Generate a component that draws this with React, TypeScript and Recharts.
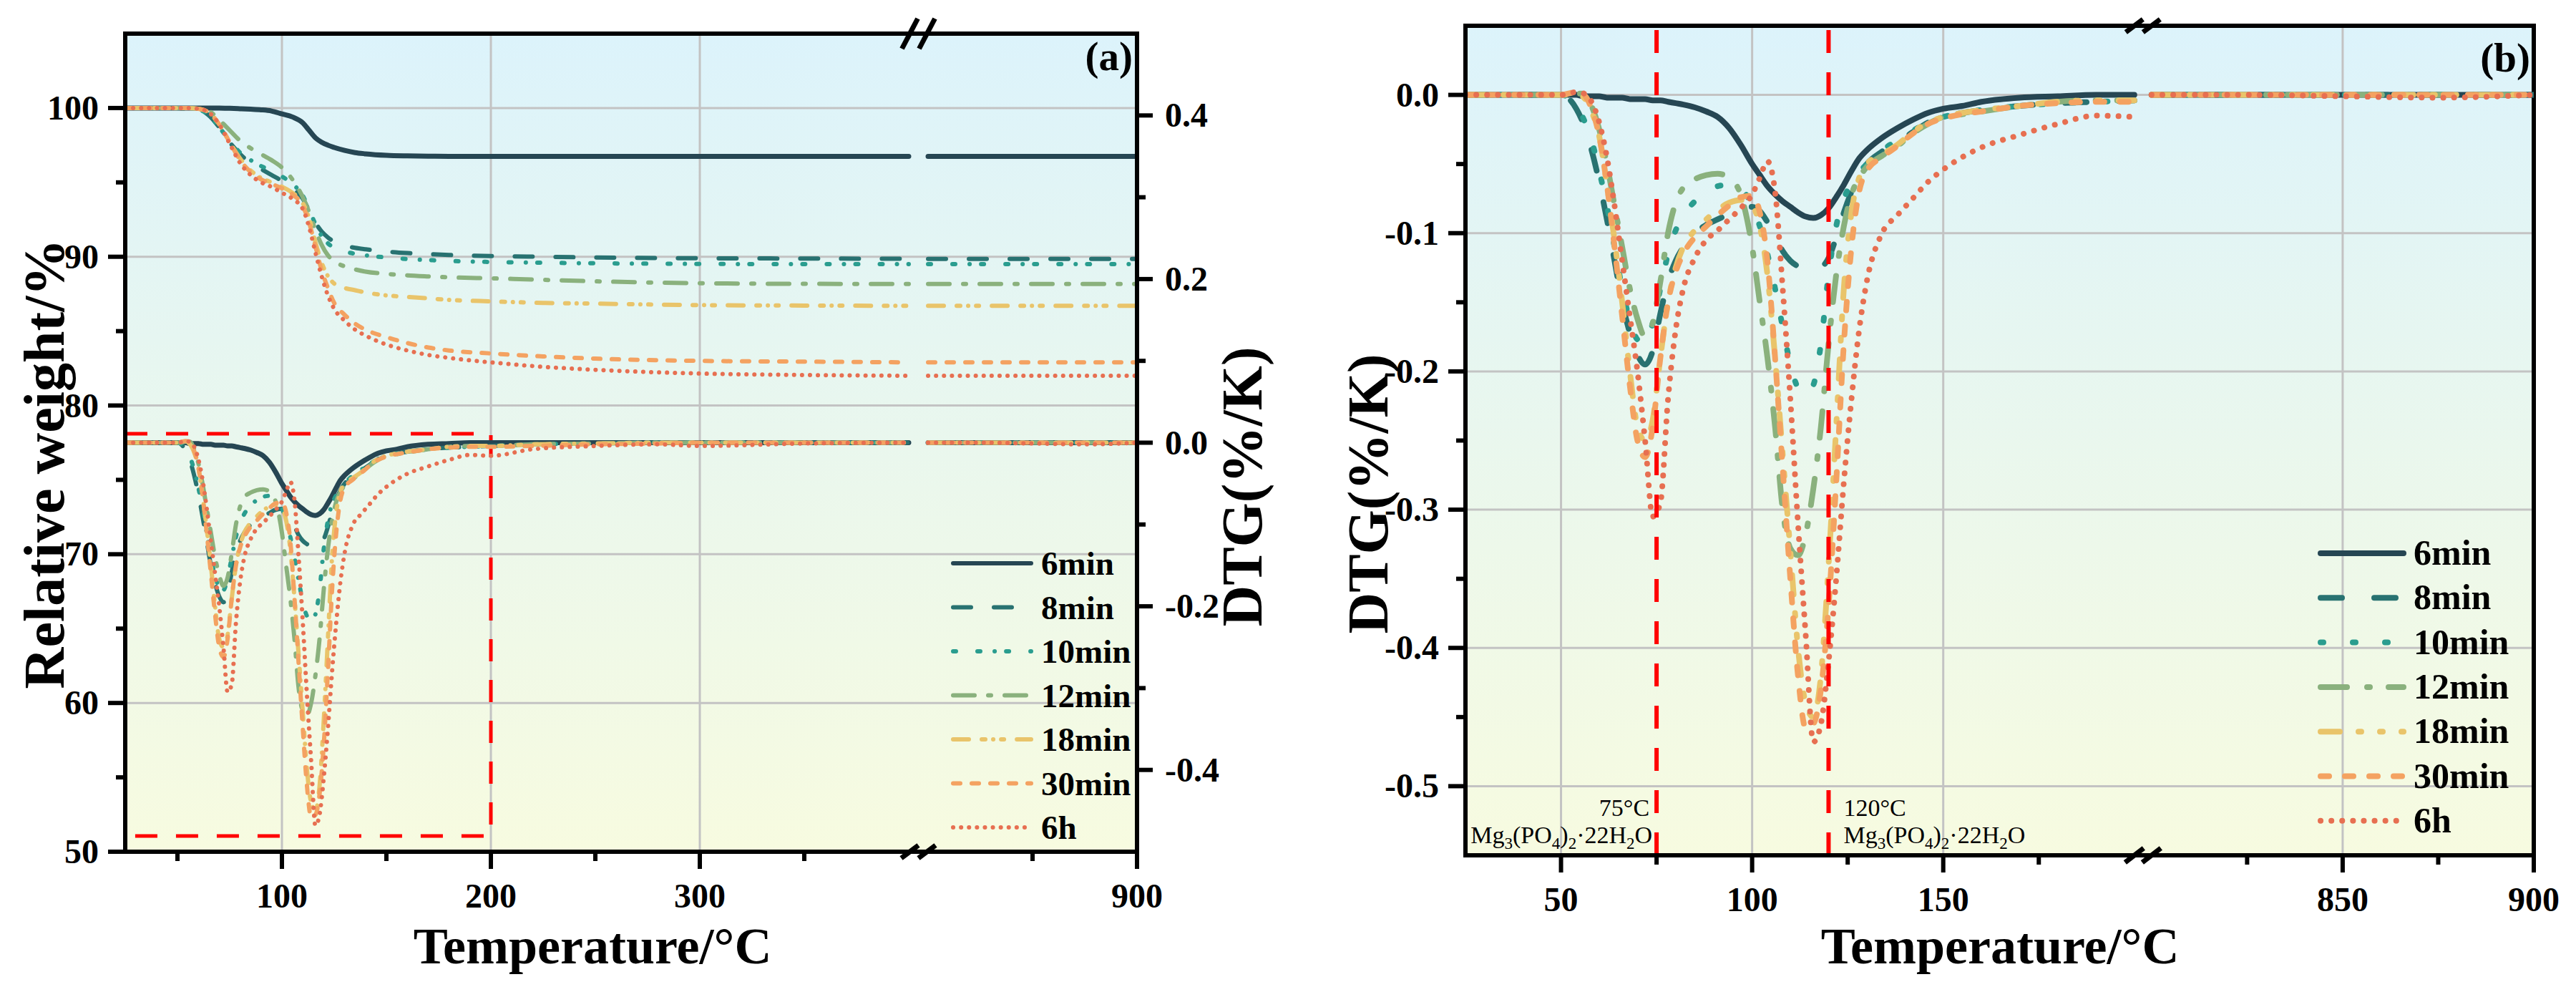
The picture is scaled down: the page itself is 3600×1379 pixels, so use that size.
import React from "react";
import {
  LineChart,
  Line,
  XAxis,
  YAxis,
  CartesianGrid,
  ReferenceArea,
  ReferenceLine,
  ReferenceDot,
} from "recharts";

const FONT = '"Liberation Serif", "Times New Roman", Times, serif';

const samples = ["6min", "8min", "10min", "12min", "18min", "30min", "6h"];
const colors = ["#264653", "#287271", "#2a9d8f", "#8ab17d", "#e9c46a", "#f4a261", "#e76f51"];

// TG curves, relative weight (%)
const tgaTemps = [25, 50, 55, 60, 65, 70, 75, 80, 85, 90, 95, 100, 105, 110, 113, 116, 119, 122, 125, 130, 135, 140, 150, 160, 170, 180, 200, 225, 250, 300, 350, 400, 800, 850, 900];
const tga6min = [100, 100, 100, 100, 100, 100, 99.98, 99.95, 99.92, 99.88, 99.8, 99.6, 99.4, 99.0, 98.5, 98.0, 97.7, 97.5, 97.35, 97.15, 97.0, 96.92, 96.82, 96.78, 96.76, 96.75, 96.75, 96.75, 96.75, 96.75, 96.75, 96.75, 96.75, 96.75, 96.75];
const tga8min = [100, 100, 99.95, 99.9, 99.5, 98.7, 97.7, 96.9, 96.3, 95.9, 95.5, 95.1, 94.6, 93.9, 93.1, 92.3, 91.7, 91.3, 91.0, 90.75, 90.6, 90.5, 90.35, 90.25, 90.18, 90.12, 90.05, 90.0, 89.95, 89.9, 89.88, 89.86, 89.86, 89.86, 89.86];
const tga10min = [100, 100, 99.95, 99.9, 99.5, 98.7, 97.8, 97.0, 96.5, 96.1, 95.8, 95.4, 94.9, 94.1, 93.2, 92.2, 91.4, 90.9, 90.6, 90.35, 90.2, 90.1, 89.95, 89.85, 89.78, 89.72, 89.65, 89.6, 89.56, 89.52, 89.5, 89.5, 89.5, 89.5, 89.5];
const tga12min = [100, 100, 100, 99.95, 99.8, 99.2, 98.5, 97.8, 97.3, 96.9, 96.5, 96.0, 95.2, 94.0, 93.0, 91.8, 90.8, 90.1, 89.7, 89.35, 89.15, 89.0, 88.85, 88.75, 88.68, 88.62, 88.55, 88.45, 88.35, 88.22, 88.18, 88.17, 88.17, 88.17, 88.17];
const tga18min = [100, 100, 100, 99.95, 99.7, 98.9, 97.7, 96.6, 95.8, 95.3, 95.0, 94.7, 94.3, 93.6, 92.6, 91.0, 89.6, 88.7, 88.2, 87.9, 87.75, 87.6, 87.4, 87.3, 87.2, 87.1, 87.0, 86.9, 86.85, 86.75, 86.72, 86.7, 86.7, 86.7, 86.7];
const tga30min = [100, 100, 100, 99.95, 99.7, 98.9, 97.7, 96.5, 95.7, 95.2, 94.9, 94.6, 94.2, 93.4, 92.3, 90.7, 89.1, 87.9, 86.9, 86.1, 85.5, 85.1, 84.6, 84.2, 83.9, 83.7, 83.5, 83.3, 83.15, 83.0, 82.95, 82.9, 82.9, 82.9, 82.9];
const tga6h = [100, 100, 100, 99.95, 99.7, 98.9, 97.6, 96.3, 95.5, 95.0, 94.7, 94.3, 93.9, 93.2, 92.0, 90.3, 88.7, 87.4, 86.5, 85.7, 85.1, 84.7, 84.1, 83.7, 83.4, 83.2, 82.9, 82.6, 82.4, 82.15, 82.05, 82.0, 82.0, 82.0, 82.0];

// DTG curves (%/K)
const dtgTemps = [25, 40, 50, 54, 56, 58, 60, 62, 64, 66, 68, 70, 72, 74, 76, 78, 80, 82, 85, 88, 91, 94, 97, 100, 102, 104, 106, 108, 110, 112, 114, 116, 118, 120, 122, 124, 126, 128, 130, 134, 138, 142, 146, 150, 155, 160, 170, 180, 190, 200, 220, 250, 280, 300, 350, 400, 800, 825, 850, 875, 900];
const dtg6min = [0, 0, 0, 0, -0.001, -0.001, -0.001, -0.002, -0.002, -0.002, -0.003, -0.003, -0.003, -0.004, -0.004, -0.005, -0.006, -0.007, -0.009, -0.012, -0.016, -0.024, -0.036, -0.05, -0.058, -0.066, -0.072, -0.077, -0.081, -0.085, -0.088, -0.089, -0.087, -0.082, -0.074, -0.065, -0.055, -0.046, -0.04, -0.031, -0.024, -0.018, -0.013, -0.01, -0.008, -0.005, -0.002, -0.001, 0, 0, 0, 0, 0, 0, 0, 0, 0, 0, 0, 0, 0];
const dtg8min = [0, 0, 0, -0.01, -0.022, -0.04, -0.063, -0.09, -0.12, -0.15, -0.172, -0.188, -0.195, -0.185, -0.158, -0.135, -0.12, -0.11, -0.1, -0.094, -0.09, -0.086, -0.082, -0.081, -0.084, -0.092, -0.102, -0.113, -0.12, -0.124, -0.126, -0.127, -0.125, -0.118, -0.103, -0.085, -0.07, -0.058, -0.05, -0.041, -0.034, -0.027, -0.02, -0.016, -0.013, -0.011, -0.008, -0.006, -0.005, -0.004, -0.002, -0.001, 0, 0, 0, 0, 0, 0, 0, 0, 0];
const dtg10min = [0, 0, 0, -0.008, -0.018, -0.033, -0.055, -0.08, -0.11, -0.14, -0.163, -0.177, -0.18, -0.165, -0.14, -0.115, -0.098, -0.087, -0.077, -0.07, -0.066, -0.065, -0.068, -0.08, -0.095, -0.115, -0.14, -0.168, -0.195, -0.212, -0.217, -0.21, -0.18, -0.13, -0.095, -0.075, -0.064, -0.056, -0.05, -0.04, -0.033, -0.026, -0.02, -0.016, -0.013, -0.011, -0.008, -0.006, -0.005, -0.004, -0.002, -0.001, 0, 0, 0, 0, 0, 0, 0, 0, 0];
const dtg12min = [0, 0, 0, 0.001, 0.001, -0.008, -0.025, -0.05, -0.08, -0.11, -0.14, -0.162, -0.175, -0.165, -0.135, -0.1, -0.078, -0.067, -0.061, -0.058, -0.057, -0.06, -0.072, -0.11, -0.15, -0.19, -0.24, -0.3, -0.328, -0.333, -0.318, -0.285, -0.24, -0.18, -0.13, -0.095, -0.072, -0.06, -0.052, -0.044, -0.037, -0.028, -0.021, -0.016, -0.014, -0.012, -0.008, -0.005, -0.004, -0.004, -0.002, -0.001, 0, 0, 0, 0, 0, 0, 0, 0, 0];
const dtg18min = [0, 0, 0, 0.001, -0.002, -0.012, -0.03, -0.065, -0.105, -0.15, -0.2, -0.24, -0.25, -0.235, -0.19, -0.15, -0.125, -0.11, -0.098, -0.09, -0.083, -0.078, -0.076, -0.08, -0.095, -0.13, -0.19, -0.26, -0.33, -0.4, -0.44, -0.45, -0.42, -0.34, -0.24, -0.14, -0.085, -0.06, -0.05, -0.043, -0.036, -0.027, -0.02, -0.016, -0.013, -0.011, -0.008, -0.005, -0.004, -0.004, -0.002, -0.001, 0, 0, 0, 0, 0, 0, 0, 0, 0];
const dtg30min = [0, 0, 0, 0.002, 0, -0.01, -0.03, -0.065, -0.11, -0.16, -0.21, -0.25, -0.262, -0.24, -0.19, -0.15, -0.128, -0.115, -0.103, -0.095, -0.087, -0.08, -0.074, -0.073, -0.085, -0.12, -0.19, -0.27, -0.35, -0.42, -0.458, -0.455, -0.43, -0.37, -0.28, -0.18, -0.11, -0.07, -0.055, -0.045, -0.037, -0.028, -0.021, -0.017, -0.014, -0.012, -0.008, -0.006, -0.005, -0.005, -0.004, -0.002, -0.001, 0, 0, 0, 0, 0, 0, 0, 0];
const dtg6h = [0, 0, 0, 0.002, 0.001, -0.005, -0.02, -0.045, -0.08, -0.12, -0.16, -0.2, -0.25, -0.305, -0.295, -0.22, -0.17, -0.14, -0.118, -0.105, -0.098, -0.09, -0.082, -0.072, -0.06, -0.048, -0.07, -0.14, -0.22, -0.31, -0.39, -0.468, -0.455, -0.41, -0.35, -0.28, -0.22, -0.17, -0.135, -0.1, -0.087, -0.075, -0.063, -0.054, -0.045, -0.038, -0.029, -0.021, -0.015, -0.016, -0.008, -0.004, -0.002, -0.004, -0.001, 0, 0, 0, -0.001, -0.002, 0];

const tgaSeries = [tga6min, tga8min, tga10min, tga12min, tga18min, tga30min, tga6h];
const dtgSeries = [dtg6min, dtg8min, dtg10min, dtg12min, dtg18min, dtg30min, dtg6h];

// axis ticks
const tempMajorA = [100, 200, 300, 900];
const tempMinorA = [50, 150, 250, 350, 850];
const weightMajor = [50, 60, 70, 80, 90, 100];
const weightMinor = [55, 65, 75, 85, 95];
const dtgMajorA = [-0.4, -0.2, 0, 0.2, 0.4];
const dtgMinorA = [-0.3, -0.1, 0.1, 0.3];
const tempMajorB = [50, 100, 150, 850, 900];
const tempMinorB = [75, 125, 175, 825, 875];
const dtgMajorB = [-0.5, -0.4, -0.3, -0.2, -0.1, 0];
const dtgMinorB = [-0.45, -0.35, -0.25, -0.15, -0.05];

// peak markers in panel (b)
const peaks = [
  { t: 75, label: "75°C", side: "left" },
  { t: 120, label: "120°C", side: "right" },
];

// dashed box in panel (a) around the DTG region, in weight units
const boxA = { t1: 25, t2: 200, w1: 51.06, w2: 78.1 };

// broken temperature axis: the high-temperature segment follows a small gap
type Break = { lo: number; hi: number; gap: number; max: number };
const breakA: Break = { lo: 400, hi: 800, gap: 9.25, max: 900 };
const breakB: Break = { lo: 200, hi: 800, gap: 4.5, max: 900 };

const toU = (t: number, b: Break) => (t <= b.lo ? t : t - b.hi + b.lo + b.gap);
const fromU = (u: number, b: Break) => (u <= b.lo ? u : u - b.gap - b.lo + b.hi);

const buildRows = (temps: number[], vals: number[], b: Break) => {
  const rows: { u: number; v: number | null }[] = [];
  temps.forEach((t, i) => {
    if (t > b.lo && t < b.hi) return;
    if (t >= b.hi && rows.length > 0 && rows[rows.length - 1].u <= b.lo) {
      rows.push({ u: b.lo + b.gap / 2, v: null });
    }
    rows.push({ u: toU(t, b), v: vals[i] });
  });
  return rows;
};

const dashA = [undefined, "25 32", "4 30 4 20 0.1 16", "30 19 4 19", "22 18 5 11 0.1 11 4 18", "10 16", "0.1 11"];
const dashB = [undefined, "30 45", "4 41", "37 28 4 26", "27 26 4 26 4 26", "12 22", "0.1 15"];

const isIn = (list: number[], v: number) => list.some((m) => Math.abs(m - v) < 1e-6);

const axisStroke = { stroke: "#000", strokeWidth: 6 };
const textStyle = { fontFamily: FONT, fontWeight: "bold" as const, fill: "#000" };

const BottomTick = ({ x, y, payload, majors, brk }: any) => {
  const major = isIn(majors, payload.value);
  return (
    <g>
      <line x1={x} x2={x} y1={y} y2={y + (major ? 24 : 13)} stroke="#000" strokeWidth={6} />
      {major && (
        <text x={x} y={y + 78} textAnchor="middle" fontSize={48} {...textStyle}>
          {Math.round(fromU(payload.value, brk))}
        </text>
      )}
    </g>
  );
};

const LeftTick = ({ x, y, payload, majors, digits }: any) => {
  const major = isIn(majors, payload.value);
  return (
    <g>
      <line x1={x} x2={x - (major ? 24 : 13)} y1={y} y2={y} stroke="#000" strokeWidth={6} />
      {major && (
        <text x={x - 37} y={y + 16} textAnchor="end" fontSize={48} {...textStyle}>
          {payload.value.toFixed(digits)}
        </text>
      )}
    </g>
  );
};

const RightTick = ({ x, y, payload, majors }: any) => {
  const major = isIn(majors, payload.value);
  return (
    <g>
      <line x1={x} x2={x + (major ? 22 : 12)} y1={y} y2={y} stroke="#000" strokeWidth={6} />
      {major && (
        <text x={x + 39} y={y + 16} textAnchor="start" fontSize={48} {...textStyle}>
          {payload.value.toFixed(1)}
        </text>
      )}
    </g>
  );
};

const BreakMark = ({ cx, cy, dx, dy }: any) => (
  <g stroke="#000" strokeWidth={7}>
    <line x1={cx - 12 - dx} y1={cy + dy} x2={cx - 12 + dx} y2={cy - dy} />
    <line x1={cx + 12 - dx} y1={cy + dy} x2={cx + 12 + dx} y2={cy - dy} />
  </g>
);

const Formula = ({ x, y, anchor }: any) => (
  <text x={x} y={y} textAnchor={anchor} fontFamily={FONT} fontSize={34} fill="#000">
    Mg<tspan dy={8} fontSize={23}>3</tspan>
    <tspan dy={-8}>(PO</tspan>
    <tspan dy={8} fontSize={23}>4</tspan>
    <tspan dy={-8}>)</tspan>
    <tspan dy={8} fontSize={23}>2</tspan>
    <tspan dy={-8}>·22H</tspan>
    <tspan dy={8} fontSize={23}>2</tspan>
    <tspan dy={-8}>O</tspan>
  </text>
);

const PeakNote = ({ viewBox, text, side }: any) => {
  const { x, y, height } = viewBox;
  const bottom = y + height;
  const left = side === "left";
  const anchor = left ? "end" : "start";
  return (
    <g>
      <text x={left ? x - 10 : x + 21} y={bottom - 55} textAnchor={anchor} fontFamily={FONT} fontSize={34} fill="#000">
        {text}
      </text>
      <Formula x={left ? x - 6 : x + 21} y={bottom - 17} anchor={anchor} />
    </g>
  );
};

const LegendBlock = ({ x1, x2, tx, y0, step, width, dashes, size }: any) => (
  <g>
    {samples.map((name, i) => {
      const y = y0 + i * step;
      return (
        <g key={name}>
          <line x1={x1} x2={x2} y1={y} y2={y} stroke={colors[i]} strokeWidth={width} strokeDasharray={dashes[i]} strokeLinecap="round" />
          <text x={tx} y={y + 16} fontSize={size} {...textStyle}>
            {name}
          </text>
        </g>
      );
    })}
  </g>
);

const AxisTitle = ({ x, y, text, rotate, size = 72 }: any) => (
  <text
    x={0}
    y={0}
    transform={`translate(${x},${y})${rotate ? " rotate(-90)" : ""}`}
    textAnchor="middle"
    dominantBaseline="central"
    fontSize={size}
    {...textStyle}
  >
    {text}
  </text>
);

const uMaxA = toU(breakA.max, breakA);
const uMaxB = toU(breakB.max, breakB);

const PanelA = () => {
  const xTicks = [...tempMajorA, ...tempMinorA].map((t) => toU(t, breakA)).sort((a, b) => a - b);
  const xMajors = tempMajorA.map((t) => toU(t, breakA));
  const wTicks = [...weightMajor, ...weightMinor].sort((a, b) => a - b);
  const dTicks = [...dtgMajorA, ...dtgMinorA].sort((a, b) => a - b);
  const uBreak = breakA.lo + breakA.gap / 2;
  return (
    <LineChart width={1800} height={1379} margin={{ top: 47, right: 61, bottom: 89, left: 55 }}>
      <defs>
        <linearGradient id="bgA" x1="0" y1="0" x2="0" y2="1">
          <stop offset="0" stopColor="#dcf3fb" />
          <stop offset="1" stopColor="#f7fbe0" />
        </linearGradient>
      </defs>
      <CartesianGrid
        yAxisId="w"
        verticalValues={[100, 200, 300]}
        horizontalValues={[60, 70, 80, 90, 100]}
        stroke="#c3c3c3"
        strokeWidth={3}
        fill="url(#bgA)"
        fillOpacity={1}
      />
      <XAxis
        dataKey="u"
        type="number"
        domain={[25, uMaxA]}
        ticks={xTicks}
        interval={0}
        allowDataOverflow
        height={100}
        tickSize={0}
        tickMargin={0}
        tickLine={false}
        axisLine={axisStroke}
        tick={<BottomTick majors={xMajors} brk={breakA} />}
      />
      <YAxis
        yAxisId="w"
        type="number"
        domain={[50, 105]}
        ticks={wTicks}
        interval={0}
        allowDataOverflow
        width={120}
        tickSize={0}
        tickMargin={0}
        tickLine={false}
        axisLine={axisStroke}
        tick={<LeftTick majors={weightMajor} digits={0} />}
      />
      <YAxis
        yAxisId="d"
        orientation="right"
        type="number"
        domain={[-0.5, 0.5]}
        ticks={dTicks}
        interval={0}
        allowDataOverflow
        width={150}
        tickSize={0}
        tickMargin={0}
        tickLine={false}
        axisLine={axisStroke}
        tick={<RightTick majors={dtgMajorA} />}
      />
      {samples.map((name, i) => (
        <Line
          key={`tga-${name}`}
          yAxisId="w"
          data={buildRows(tgaTemps, tgaSeries[i], breakA)}
          dataKey="v"
          name={name}
          type="monotone"
          stroke={colors[i]}
          strokeWidth={i === 0 ? 7 : 6}
          strokeDasharray={dashA[i]}
          strokeLinecap="round"
          dot={false}
          activeDot={false}
          connectNulls={false}
          isAnimationActive={false}
        />
      ))}
      {samples.map((name, i) => (
        <Line
          key={`dtg-${name}`}
          yAxisId="d"
          data={buildRows(dtgTemps, dtgSeries[i], breakA)}
          dataKey="v"
          name={name}
          type="monotone"
          stroke={colors[i]}
          strokeWidth={i === 0 ? 7 : 6}
          strokeDasharray={dashA[i]}
          strokeLinecap="round"
          dot={false}
          activeDot={false}
          connectNulls={false}
          isAnimationActive={false}
        />
      ))}
      <ReferenceArea
        yAxisId="w"
        x1={25}
        x2={uMaxA}
        y1={50}
        y2={105}
        fill="none"
        stroke="#000"
        strokeWidth={6}
        ifOverflow="visible"
      />
      <ReferenceArea
        yAxisId="w"
        x1={boxA.t1}
        x2={boxA.t2}
        y1={boxA.w1}
        y2={boxA.w2}
        fill="none"
        stroke="#ff0000"
        strokeWidth={5}
        strokeDasharray="31 26"
        ifOverflow="visible"
      />
      <ReferenceDot yAxisId="w" x={uBreak} y={105} r={0} ifOverflow="visible" shape={(p: any) => <BreakMark cx={p.cx} cy={p.cy} dx={11} dy={21} />} />
      <ReferenceDot yAxisId="w" x={uBreak} y={50} r={0} ifOverflow="visible" shape={(p: any) => <BreakMark cx={p.cx} cy={p.cy} dx={12} dy={9} />} />
      <text x={1583} y={98} textAnchor="end" fontSize={57} {...textStyle}>
        (a)
      </text>
      <AxisTitle x={62} y={648} text="Relative weight/%" rotate size={80} />
      <AxisTitle x={1736} y={680} text="DTG(%/K)" rotate size={80} />
      <AxisTitle x={828} y={1322} text="Temperature/°C" />
      <LegendBlock x1={1332} x2={1441} tx={1455} y0={787} step={61.5} width={6} dashes={dashA} size={47} />
    </LineChart>
  );
};

const PanelB = () => {
  const xTicks = [...tempMajorB, ...tempMinorB].map((t) => toU(t, breakB)).sort((a, b) => a - b);
  const xMajors = tempMajorB.map((t) => toU(t, breakB));
  const dTicks = [...dtgMajorB, ...dtgMinorB].sort((a, b) => a - b);
  const uBreak = breakB.lo + breakB.gap / 2;
  return (
    <LineChart width={1800} height={1379} margin={{ top: 36, right: 59, bottom: 84, left: 98 }}>
      <defs>
        <linearGradient id="bgB" x1="0" y1="0" x2="0" y2="1">
          <stop offset="0" stopColor="#dcf3fb" />
          <stop offset="1" stopColor="#f7fbe0" />
        </linearGradient>
      </defs>
      <CartesianGrid
        yAxisId="d"
        verticalValues={[50, 100, 150, toU(850, breakB)]}
        horizontalValues={dtgMajorB}
        stroke="#c3c3c3"
        strokeWidth={3}
        fill="url(#bgB)"
        fillOpacity={1}
      />
      <XAxis
        dataKey="u"
        type="number"
        domain={[25, uMaxB]}
        ticks={xTicks}
        interval={0}
        allowDataOverflow
        height={100}
        tickSize={0}
        tickMargin={0}
        tickLine={false}
        axisLine={axisStroke}
        tick={<BottomTick majors={xMajors} brk={breakB} />}
      />
      <YAxis
        yAxisId="d"
        type="number"
        domain={[-0.55, 0.05]}
        ticks={dTicks}
        interval={0}
        allowDataOverflow
        width={150}
        tickSize={0}
        tickMargin={0}
        tickLine={false}
        axisLine={axisStroke}
        tick={<LeftTick majors={dtgMajorB} digits={1} />}
      />
      {samples.map((name, i) => (
        <Line
          key={`dtg-${name}`}
          yAxisId="d"
          data={buildRows(dtgTemps, dtgSeries[i], breakB)}
          dataKey="v"
          name={name}
          type="monotone"
          stroke={colors[i]}
          strokeWidth={8}
          strokeDasharray={dashB[i]}
          strokeLinecap="round"
          dot={false}
          activeDot={false}
          connectNulls={false}
          isAnimationActive={false}
        />
      ))}
      {peaks.map((p) => (
        <ReferenceLine
          key={p.label}
          yAxisId="d"
          x={p.t}
          stroke="#ff0000"
          strokeWidth={6}
          strokeDasharray="32 27"
          label={<PeakNote text={p.label} side={p.side} />}
        />
      ))}
      <ReferenceArea
        yAxisId="d"
        x1={25}
        x2={uMaxB}
        y1={-0.55}
        y2={0.05}
        fill="none"
        stroke="#000"
        strokeWidth={6}
        ifOverflow="visible"
      />
      <ReferenceDot yAxisId="d" x={uBreak} y={0.05} r={0} ifOverflow="visible" shape={(p: any) => <BreakMark cx={p.cx} cy={p.cy} dx={12} dy={9} />} />
      <ReferenceDot yAxisId="d" x={uBreak} y={-0.55} r={0} ifOverflow="visible" shape={(p: any) => <BreakMark cx={p.cx} cy={p.cy} dx={13} dy={10} />} />
      <text x={1736} y={100} textAnchor="end" fontSize={57} {...textStyle}>
        (b)
      </text>
      <AxisTitle x={112} y={690} text="DTG(%/K)" rotate size={80} />
      <AxisTitle x={995} y={1322} text="Temperature/°C" />
      <LegendBlock x1={1443} x2={1559} tx={1573} y0={773} step={62.3} width={8} dashes={dashB} size={50} />
    </LineChart>
  );
};

export default function App() {
  return (
    <div style={{ position: "absolute", left: 0, top: 0, width: 3600, height: 1379, background: "#fff" }}>
      <div style={{ position: "absolute", left: 0, top: 0 }}>
        <PanelA />
      </div>
      <div style={{ position: "absolute", left: 1800, top: 0 }}>
        <PanelB />
      </div>
    </div>
  );
}
